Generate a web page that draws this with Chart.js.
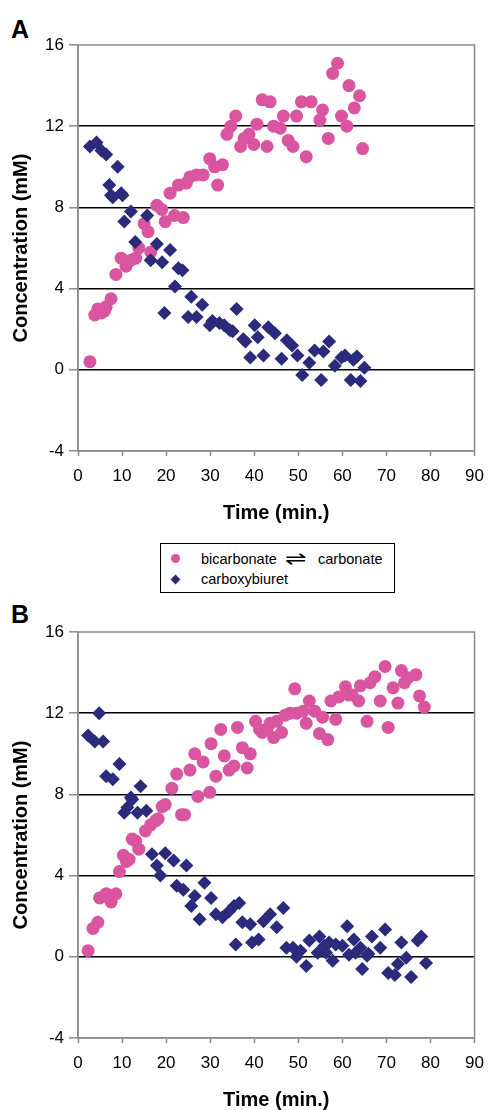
<!DOCTYPE html>
<html>
<head>
<meta charset="utf-8">
<script src="https://cdn.jsdelivr.net/npm/chart.js@4.4.0/dist/chart.umd.min.js"></script>
<style>
  html, body { margin: 0; padding: 0; background: #fff; }
  body { position: relative; width: 494px; height: 1110px; overflow: hidden; font-family: "Liberation Sans", Arial, sans-serif; color: #000; }
  .panel-letter { position: absolute; left: 11px; font-size: 25px; font-weight: bold; line-height: 25px; }
  canvas { position: absolute; left: 0; }
  #legend { position: absolute; left: 160px; top: 543px; width: 233px; height: 48px; border: 1.5px solid #000; }
  #legend span { position: absolute; font-size: 14.5px; line-height: 16px; white-space: nowrap; }
  .mk-dot { position: absolute; width: 9px; height: 9px; border-radius: 50%; background: #d9559f; }
  .mk-diamond { position: absolute; width: 7px; height: 7px; background: #2b2a7b; transform: rotate(45deg); }
</style>
</head>
<body>

<div class="panel-letter" style="top:17px;">A</div>
<canvas id="chartA" width="494" height="531" style="top:0;"></canvas>

<div id="legend">
  <div class="mk-dot" style="left:10px; top:10px;"></div>
  <span style="left:40px; top:7px;">bicarbonate</span>
  <span style="left:124px; top:5px; font-family:'DejaVu Sans'; font-size:19px; line-height:18px; transform:scaleX(1.35); transform-origin:left center;">&#8652;</span>
  <span style="left:157px; top:7px;">carbonate</span>
  <div class="mk-diamond" style="left:11px; top:32px;"></div>
  <span style="left:40px; top:27px;">carboxybiuret</span>
</div>

<div class="panel-letter" style="top:602px;">B</div>
<canvas id="chartB" width="494" height="520" style="top:592px;"></canvas>

<script>
// Panel A - bicarbonate / carbonate (mM) vs time (min.)
const aBicarbTime = [2.7, 3.8, 4.5, 5.3, 6.0, 6.4, 7.5, 8.6, 9.8, 10.9, 12.0, 13.1, 13.8, 15.0, 15.9, 16.5, 17.9, 19.0, 19.8, 20.9,
  21.9, 22.8, 23.9, 24.6, 25.4, 26.9, 28.4, 29.9, 31.0, 31.7, 32.8, 33.8, 34.7, 35.8, 36.9, 37.7, 38.8, 39.9, 40.6, 41.8,
  42.9, 43.6, 44.4, 45.9, 46.6, 47.7, 48.8, 49.6, 50.7, 51.8, 52.9, 54.9, 55.5, 56.8, 57.8, 58.9, 59.8, 61.0, 61.5, 62.7,
  63.9, 64.6];
const aBicarb = [0.4, 2.7, 3.0, 2.8, 2.9, 3.1, 3.5, 4.7, 5.5, 5.1, 5.4, 5.5, 6.0, 7.2, 6.8, 5.8, 8.1, 7.9, 7.3, 8.7,
  7.6, 9.1, 7.5, 9.2, 9.5, 9.6, 9.6, 10.4, 10.0, 9.1, 10.1, 11.6, 12.0, 12.5, 11.0, 11.4, 11.6, 11.1, 12.1, 13.3,
  11.0, 13.2, 12.0, 11.9, 12.5, 11.3, 11.0, 12.5, 13.2, 10.5, 13.2, 12.3, 12.8, 11.4, 14.6, 15.1, 12.5, 12.0, 14.0, 12.9,
  13.5, 10.9];

// Panel A - carboxybiuret
const aCarboxyTime = [2.7, 4.2, 5.3, 6.4, 7.1, 7.5, 7.9, 9.0, 9.8, 10.1, 10.5, 12.0, 13.0, 15.7, 16.5, 17.9, 19.1, 19.6, 20.9, 22.0,
  22.8, 23.7, 25.0, 25.7, 26.9, 28.2, 29.9, 30.5, 32.1, 33.2, 34.5, 35.1, 36.0, 37.5, 38.0, 39.1, 40.1, 40.8, 42.1, 43.2,
  44.7, 46.2, 47.4, 48.6, 49.8, 50.9, 52.5, 53.7, 55.2, 55.7, 57.0, 58.3, 59.8, 60.6, 61.9, 62.5, 63.3, 64.1, 65.0];
const aCarboxy = [11.0, 11.2, 10.8, 10.6, 9.1, 8.6, 8.5, 10.0, 8.7, 8.6, 7.3, 7.8, 6.3, 7.6, 5.4, 6.2, 5.3, 2.8, 5.9, 4.1,
  5.0, 4.9, 2.6, 3.6, 2.6, 3.2, 2.2, 2.4, 2.3, 2.2, 1.95, 1.9, 3.0, 1.5, 1.4, 0.6, 2.2, 1.6, 0.7, 2.1,
  1.8, 0.55, 1.45, 1.2, 0.7, -0.25, 0.35, 0.95, -0.5, 0.9, 1.4, 0.2, 0.6, 0.7, -0.5, 0.5, 0.65, -0.55, 0.1];

// Panel B - bicarbonate / carbonate
const bBicarbTime = [2.3, 3.4, 4.5, 4.9, 6.0, 6.4, 7.5, 8.6, 9.4, 10.3, 11.0, 11.6, 12.3, 13.1, 13.8, 15.3, 16.5, 17.6, 18.2, 19.1,
  19.8, 21.3, 22.4, 23.5, 24.2, 25.4, 26.5, 27.2, 28.4, 29.9, 30.2, 31.3, 32.4, 33.2, 34.3, 35.4, 36.2, 37.3, 38.4, 39.1,
  40.3, 41.2, 41.8, 42.9, 43.6, 44.4, 45.1, 46.2, 47.0, 48.1, 49.2, 49.6, 51.1, 51.8, 52.5, 53.7, 54.8, 55.5, 56.7, 57.4,
  58.5, 59.2, 60.7, 61.4, 62.2, 63.7, 64.1, 65.6, 66.3, 67.4, 68.6, 69.7, 70.4, 71.5, 72.6, 73.4, 74.1, 74.9, 76.7, 77.5,
  78.6];
const bBicarb = [0.3, 1.4, 1.7, 2.9, 3.0, 3.1, 2.7, 3.1, 4.2, 5.0, 4.7, 4.8, 5.8, 5.7, 5.3, 6.2, 6.5, 6.7, 6.8, 7.4,
  7.5, 8.3, 9.0, 7.0, 7.0, 9.2, 10.0, 7.9, 9.6, 8.1, 10.5, 8.9, 11.2, 9.9, 9.2, 9.4, 11.3, 10.3, 9.3, 10.0,
  11.6, 11.2, 11.05, 11.2, 11.5, 10.8, 11.6, 11.05, 11.9, 12.0, 13.2, 12.0, 12.1, 11.5, 12.6, 12.1, 11.0, 11.8, 10.7, 12.6,
  11.7, 12.8, 13.3, 12.9, 12.9, 12.6, 13.35, 11.6, 13.5, 13.8, 12.6, 14.3, 11.3, 13.25, 12.5, 14.1, 13.5, 13.75, 13.9, 12.85,
  12.3];

// Panel B - carboxybiuret
const bCarboxyTime = [2.3, 3.8, 4.8, 5.7, 6.4, 7.9, 9.4, 10.5, 11.2, 12.0, 12.3, 13.5, 14.2, 15.5, 16.8, 17.9, 18.7, 19.8, 21.7, 22.4,
  23.9, 24.6, 25.7, 26.5, 27.6, 28.7, 30.2, 31.3, 32.8, 34.3, 35.4, 35.8, 36.6, 37.3, 39.1, 39.5, 41.0, 42.1, 43.6, 45.1,
  46.6, 47.3, 48.8, 49.6, 50.5, 51.8, 52.5, 54.4, 54.8, 55.9, 56.3, 57.0, 57.8, 58.5, 60.0, 61.1, 61.5, 62.6, 63.0, 64.1,
  64.5, 65.6, 65.9, 66.7, 68.6, 69.7, 70.4, 71.9, 72.6, 73.4, 74.5, 75.6, 77.1, 77.9, 79.0];
const bCarboxy = [10.9, 10.6, 12.0, 10.6, 8.9, 8.75, 9.5, 7.1, 7.35, 7.85, 7.75, 7.1, 8.4, 7.2, 5.05, 4.5, 4.0, 5.1, 4.75, 3.5,
  3.3, 4.5, 2.5, 3.0, 1.85, 3.65, 2.9, 2.1, 1.95, 2.25, 2.5, 0.6, 2.65, 1.7, 1.6, 0.7, 0.85, 1.75, 2.1, 1.45,
  2.4, 0.45, 0.45, 0.0, 0.3, -0.45, 0.8, 0.2, 1.0, 0.55, 0.2, 0.7, -0.2, 0.6, 0.55, 1.5, 0.1, 0.85, 0.2, 0.45,
  -0.6, 0.05, 0.15, 1.0, 0.45, 1.35, -0.8, -0.9, -0.35, 0.7, -0.05, -1.0, 0.8, 1.0, -0.3];

// axis ticks
const timeTicks = [0, 10, 20, 30, 40, 50, 60, 70, 80, 90];
const concTicks = [-4, 0, 4, 8, 12, 16];

const seriesNames = ['bicarbonate \u21CC carbonate', 'carboxybiuret'];
const PINK = '#d9559f';
const NAVY = '#2b2a7b';
const AXIS_GRAY = '#8c8c8c';
const FONT = 'Liberation Sans';

const toPoints = (xs, ys) => xs.map((x, i) => ({ x: x, y: ys[i] }));

// gray frame around plot area
const plotFrame = {
  id: 'plotFrame',
  beforeDatasetsDraw(chart) {
    const { ctx, chartArea: a } = chart;
    ctx.save();
    ctx.strokeStyle = AXIS_GRAY;
    ctx.lineWidth = 1.5;
    ctx.strokeRect(a.left, a.top, a.right - a.left, a.bottom - a.top);
    ctx.restore();
  }
};

const makePanel = (canvasId, bicarbTime, bicarb, carboxyTime, carboxy, padTop, xAxisHeight, titlePadBottom) => {
  return new Chart(document.getElementById(canvasId), {
    type: 'scatter',
    data: {
      datasets: [{
        label: seriesNames[0],
        data: toPoints(bicarbTime, bicarb),
        pointStyle: 'circle',
        pointRadius: 6.5,
        pointBorderWidth: 0,
        backgroundColor: PINK,
        borderColor: PINK,
        order: 2
      }, {
        label: seriesNames[1],
        data: toPoints(carboxyTime, carboxy),
        pointStyle: 'rectRot',
        pointRadius: 7,
        pointBorderWidth: 0,
        backgroundColor: NAVY,
        borderColor: NAVY,
        order: 1
      }]
    },
    options: {
      responsive: false,
      animation: false,
      layout: { padding: { top: padTop, right: 13, bottom: 0, left: 0 } },
      plugins: { legend: { display: false }, tooltip: { enabled: false } },
      scales: {
        x: {
          type: 'linear',
          min: timeTicks[0],
          max: timeTicks[timeTicks.length - 1],
          afterBuildTicks(scale) { scale.ticks = timeTicks.map(v => ({ value: v })); },
          ticks: { color: '#000', padding: 10, font: { family: FONT, size: 17 } },
          grid: { drawOnChartArea: false, drawTicks: true, tickLength: 5, tickColor: AXIS_GRAY, tickWidth: 1.5 },
          border: { color: AXIS_GRAY, width: 1.5 },
          title: {
            display: true,
            text: 'Time (min.)',
            color: '#000',
            font: { family: FONT, size: 20, weight: 'bold' },
            padding: { top: 0, bottom: titlePadBottom }
          },
          afterFit(scale) { scale.height = xAxisHeight; }
        },
        y: {
          min: concTicks[0],
          max: concTicks[concTicks.length - 1],
          afterBuildTicks(scale) { scale.ticks = concTicks.map(v => ({ value: v })); },
          ticks: { color: '#000', padding: 5, font: { family: FONT, size: 17 } },
          grid: {
            color: c => (c.tick && c.tick.value > concTicks[0] && c.tick.value < concTicks[concTicks.length - 1]) ? '#000' : 'rgba(0,0,0,0)',
            lineWidth: 1.6,
            tickLength: 9,
            tickColor: AXIS_GRAY,
            tickWidth: 1.5
          },
          border: { color: AXIS_GRAY, width: 1.5 },
          title: {
            display: true,
            text: 'Concentration (mM)',
            color: '#000',
            font: { family: FONT, size: 20, weight: 'bold' },
            padding: { top: 9, bottom: 0 }
          },
          afterFit(scale) { scale.width = 78; }
        }
      }
    },
    plugins: [plotFrame]
  });
};

const chartA = makePanel('chartA', aBicarbTime, aBicarb, aCarboxyTime, aCarboxy, 45, 80, 6);
const chartB = makePanel('chartB', bBicarbTime, bBicarb, bCarboxyTime, bCarboxy, 40, 74, 0);
</script>
</body>
</html>
